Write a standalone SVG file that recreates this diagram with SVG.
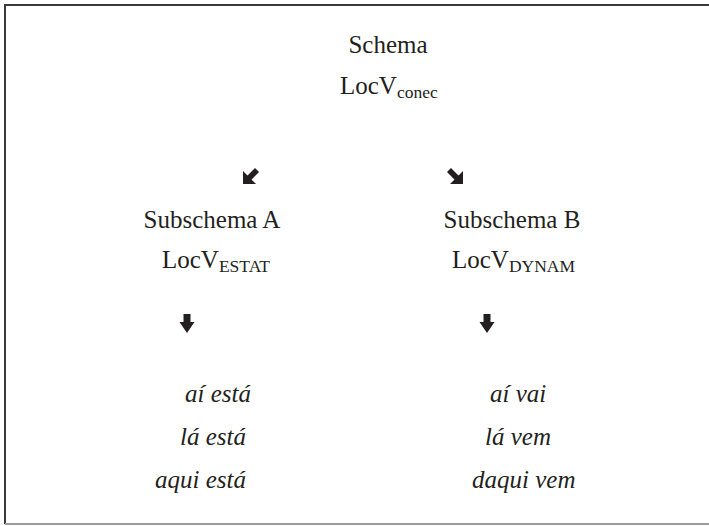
<svg xmlns="http://www.w3.org/2000/svg" width="709" height="526" viewBox="0 0 709 526">
<style>
.t{font-family:"Liberation Serif","Times New Roman",serif;font-size:25px;fill:#231f20}
.s{font-size:17.5px}
.i{font-style:italic}
.a{fill:#231f20}
</style>
<rect x="0" y="0" width="709" height="526" fill="#fff"/>
<path d="M5,524 V5 H709" fill="none" stroke="#3a3a3a" stroke-width="2"/>
<path d="M5,524 H709" fill="none" stroke="#9a9a9a" stroke-width="2"/>
<g id="schema">
<text class="t" x="388" y="53" text-anchor="middle">Schema</text>
<text class="t" x="340" y="94">LocV<tspan class="s" dy="4">conec</tspan></text>
</g>
<g id="subA">
<text class="t" x="212" y="228" text-anchor="middle">Subschema A</text>
<text class="t" x="162" y="268">LocV<tspan class="s" dy="4">ESTAT</tspan></text>
</g>
<g id="subB">
<text class="t" x="512" y="228" text-anchor="middle">Subschema B</text>
<text class="t" x="452" y="268">LocV<tspan class="s" dy="4">DYNAM</tspan></text>
</g>
<g id="listA">
<text class="t i" x="185" y="402">aí está</text>
<text class="t i" x="180" y="445">lá está</text>
<text class="t i" x="155" y="488">aqui está</text>
</g>
<g id="listB">
<text class="t i" x="490" y="402">aí vai</text>
<text class="t i" x="485" y="445">lá vem</text>
<text class="t i" x="472" y="488">daqui vem</text>
</g>
<g id="connectors">
<polygon class="a" points="243,184 243,171 247.5,175.5 255,168 259,172 251.5,179.5 256,184"/>
<polygon class="a" points="463,184 463,171 458.5,175.5 451,168 447,172 454.5,179.5 450,184"/>
<polygon class="a" points="183.5,314 190.5,314 190.5,322 194.5,322 187,333 179.5,322 183.5,322"/>
<polygon class="a" points="483.5,314 490.5,314 490.5,322 494.5,322 487,333 479.5,322 483.5,322"/>
</g>
</svg>
